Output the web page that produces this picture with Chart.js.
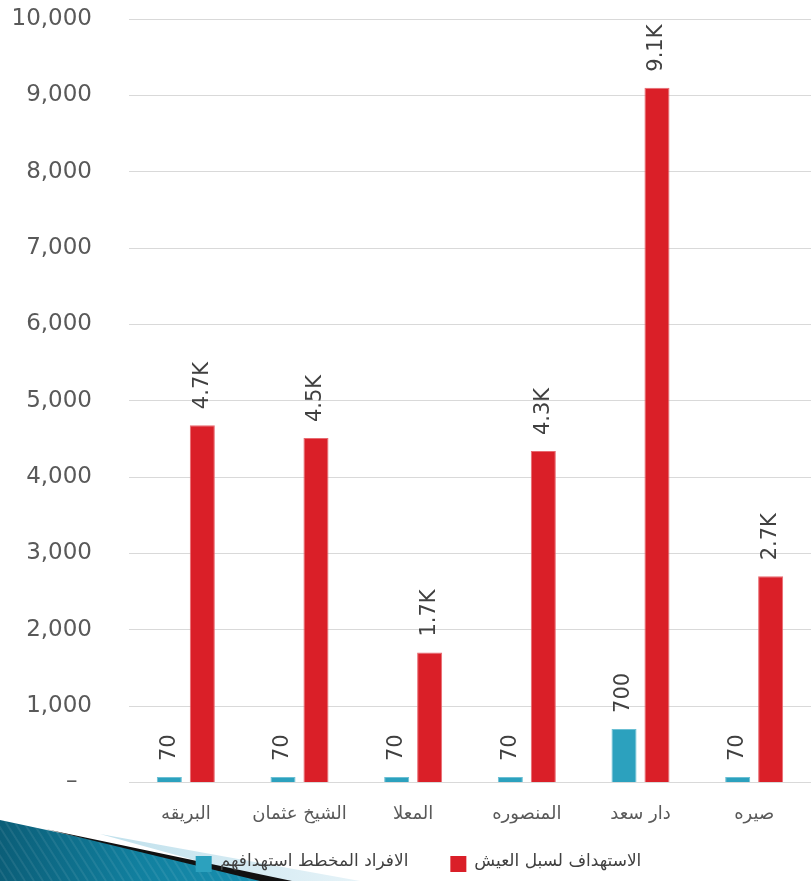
<!DOCTYPE html>
<html>
<head>
<meta charset="utf-8">
<script src="https://cdn.jsdelivr.net/npm/chart.js@4.4.1/dist/chart.umd.min.js"></script>
<style>
  html, body { margin: 0; padding: 0; background: #ffffff; }
  #wrap { width: 811px; height: 881px; position: relative; }
</style>
</head>
<body>
<div id="wrap"><canvas id="c" width="811" height="881"></canvas></div>
<script>
const categories = ['البريقه', 'الشيخ عثمان', 'المعلا', 'المنصوره', 'دار سعد', 'صيره'];
const seriesNames = ['الافراد المخطط استهدافهم', 'الاستهداف لسبل العيش'];
const plannedIndividuals = [70, 70, 70, 70, 700, 70];
const livelihoodTargeting = [4680, 4510, 1700, 4340, 9100, 2700];
const yTicks = [0, 1000, 2000, 3000, 4000, 5000, 6000, 7000, 8000, 9000, 10000];

const NUM_FONT = 'DejaVu Sans';
const AR_FONT = 'DejaVu Sans';

const decoration = {
  id: 'decoration',
  beforeDraw(chart) {
    const ctx = chart.ctx;
    const H = chart.height;
    ctx.save();
    let g = ctx.createLinearGradient(100, 0, 360, 0);
    g.addColorStop(0, '#bfe0ec');
    g.addColorStop(1, '#e6f3f8');
    ctx.fillStyle = g;
    ctx.beginPath();
    ctx.moveTo(100, 834);
    ctx.lineTo(360, H);
    ctx.lineTo(270, H);
    ctx.closePath();
    ctx.fill();
    g = ctx.createLinearGradient(0, 0, 280, 0);
    g.addColorStop(0, '#0b5e78');
    g.addColorStop(0.5, '#11809f');
    g.addColorStop(1, '#1a93b4');
    ctx.fillStyle = g;
    ctx.beginPath();
    ctx.moveTo(0, 820);
    ctx.lineTo(285, H);
    ctx.lineTo(0, H);
    ctx.closePath();
    ctx.fill();
    ctx.strokeStyle = 'rgba(255,255,255,0.08)';
    ctx.lineWidth = 2;
    ctx.save();
    ctx.beginPath();
    ctx.moveTo(0, 820);
    ctx.lineTo(285, H);
    ctx.lineTo(0, H);
    ctx.closePath();
    ctx.clip();
    for (let x = -60; x < 300; x += 9) {
      ctx.beginPath();
      ctx.moveTo(x, 818);
      ctx.lineTo(x + 40, H);
      ctx.stroke();
    }
    ctx.restore();
    ctx.fillStyle = '#111111';
    ctx.beginPath();
    ctx.moveTo(45, 829);
    ctx.lineTo(292, H);
    ctx.lineTo(260, H);
    ctx.closePath();
    ctx.fill();
    ctx.restore();
  }
};

const customLegend = {
  id: 'customLegend',
  afterDraw(chart) {
    const ctx = chart.ctx;
    ctx.save();
    ctx.font = '17px "' + AR_FONT + '"';
    ctx.textBaseline = 'middle';
    ctx.textAlign = 'left';
    const box = 16, gapText = 8, gapItem = 42;
    const items = chart.data.datasets.map(ds => ({
      label: ds.label, color: ds.backgroundColor, w: ctx.measureText(ds.label).width
    }));
    let total = 0;
    items.forEach((it, i) => { total += box + gapText + it.w + (i < items.length - 1 ? gapItem : 0); });
    let x = (chart.width - total) / 2 + 13;
    const yMid = 863;
    items.forEach(it => {
      ctx.fillStyle = it.color;
      ctx.fillRect(x, yMid - 7, box, box);
      ctx.fillStyle = '#404040';
      ctx.fillText(it.label, x + box + gapText, yMid - 1);
      x += box + gapText + it.w + gapItem;
    });
    ctx.restore();
  }
};

const barLabels = {
  id: 'barLabels',
  afterDatasetsDraw(chart) {
    const ctx = chart.ctx;
    ctx.save();
    ctx.fillStyle = '#404040';
    ctx.font = '21px "' + NUM_FONT + '"';
    ctx.textAlign = 'left';
    ctx.textBaseline = 'middle';
    chart.data.datasets.forEach((ds, di) => {
      const meta = chart.getDatasetMeta(di);
      meta.data.forEach((bar, i) => {
        const v = ds.data[i];
        const txt = di === 1 ? (v / 1000).toFixed(1) + 'K' : String(v);
        ctx.save();
        ctx.translate(bar.x, bar.y - 16);
        ctx.rotate(-Math.PI / 2);
        ctx.fillText(txt, 0, 0);
        ctx.restore();
      });
    });
    ctx.restore();
  }
};

new Chart(document.getElementById('c'), {
  type: 'bar',
  data: {
    labels: categories,
    datasets: [
      {
        label: seriesNames[0],
        data: plannedIndividuals,
        backgroundColor: '#2CA1BE',
        borderColor: '#6cc0d4',
        borderWidth: 1,
        categoryPercentage: 0.58,
        barPercentage: 0.76
      },
      {
        label: seriesNames[1],
        data: livelihoodTargeting,
        backgroundColor: '#DA1F28',
        borderColor: '#e86a70',
        borderWidth: 1,
        categoryPercentage: 0.58,
        barPercentage: 0.76
      }
    ]
  },
  options: {
    responsive: false,
    animation: false,
    devicePixelRatio: 1,
    layout: { padding: { top: 19, right: -8, bottom: 43, left: 0 } },
    plugins: {
      tooltip: { enabled: false },
      legend: { display: false }
    },
    scales: {
      x: {
        grid: { display: false },
        border: { display: true, color: '#d9d9d9', width: 1 },
        ticks: {
          font: { family: AR_FONT, size: 18 },
          color: '#595959',
          padding: 13,
          maxRotation: 0
        }
      },
      y: {
        min: 0,
        max: 10000,
        afterBuildTicks(scale) { scale.ticks = yTicks.map(v => ({ value: v })); },
        afterFit(scale) { scale.width = 129; scale.paddingTop = 0; scale.paddingBottom = 0; },
        grid: { color: '#d9d9d9', lineWidth: 1, drawTicks: false },
        border: { display: false },
        ticks: {
          font: { family: NUM_FONT, size: 23 },
          color: '#595959',
          padding: 37,
          callback: v => v === 0 ? '–  ' : v.toLocaleString('en-US')
        }
      }
    }
  },
  plugins: [decoration, barLabels, customLegend]
});
</script>
</body>
</html>
